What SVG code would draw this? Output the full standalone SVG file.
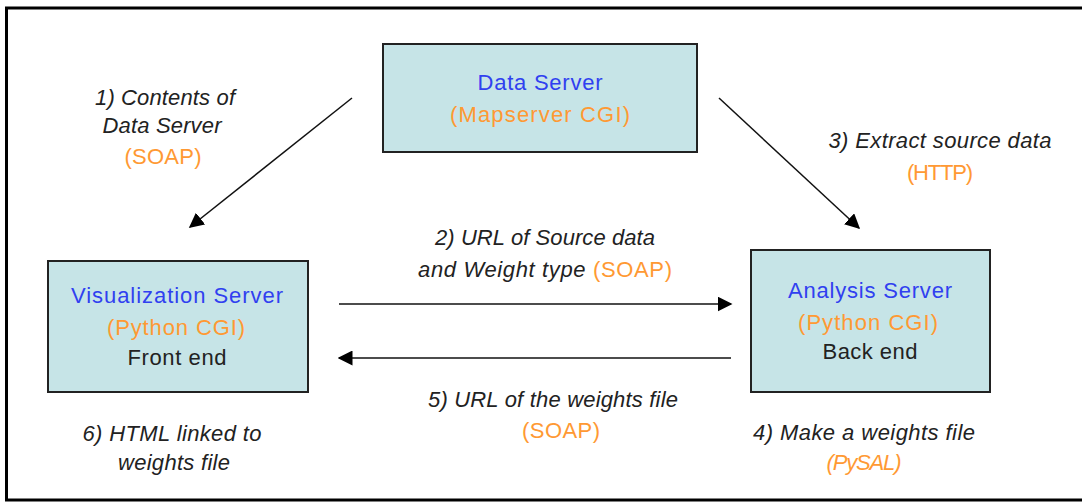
<svg xmlns="http://www.w3.org/2000/svg" width="1082" height="502" viewBox="0 0 1082 502">
<style>
text { font-family: "Liberation Sans", "DejaVu Sans", sans-serif; font-size: 22px; text-anchor: middle; }
.box { fill: #c6e4e7; stroke: #222; stroke-width: 2; }
.title { fill: #3040f0; }
.org { fill: #ff9933; }
.blk { fill: #222; }
.it { font-style: italic; fill: #222; }
.itorg { font-style: italic; fill: #ff9933; }
.conn { stroke: #111; stroke-width: 1.5; fill: none; marker-end: url(#ah); }
</style>
<defs>
<marker id="ah" viewBox="0 0 10 10" refX="9" refY="5" markerWidth="15" markerHeight="15" markerUnits="userSpaceOnUse" orient="auto">
<path d="M0,0 L10,5 L0,10 z" fill="#000"/>
</marker>
</defs>
<rect x="0" y="0" width="1082" height="502" fill="#fff"/>
<rect x="6.5" y="8" width="1090" height="492" fill="none" stroke="#000" stroke-width="3"/>

<g id="connectors">
<line class="conn" x1="352" y1="98" x2="190" y2="227"/>
<line class="conn" x1="719" y1="98" x2="859" y2="228"/>
<line class="conn" x1="339" y1="304" x2="731" y2="304"/>
<line class="conn" x1="731" y1="358" x2="339" y2="358"/>
</g>

<g id="data-server">
<rect class="box" x="383" y="44" width="314" height="108"/>
<text class="title" x="540" y="90" textLength="125">Data Server</text>
<text class="org" x="540" y="122" textLength="180">(Mapserver CGI)</text>
</g>

<g id="visualization-server">
<rect class="box" x="48" y="261" width="260" height="131"/>
<text class="title" x="177" y="303" textLength="212">Visualization Server</text>
<text class="org" x="176" y="335" textLength="138">(Python CGI)</text>
<text class="blk" x="177" y="365" textLength="99">Front end</text>
</g>

<g id="analysis-server">
<rect class="box" x="751" y="250" width="239" height="142"/>
<text class="title" x="870" y="298" textLength="164">Analysis Server</text>
<text class="org" x="868" y="330" textLength="140">(Python CGI)</text>
<text class="blk" x="870" y="359" textLength="95">Back end</text>
</g>

<g id="labels">
<text class="it" x="165" y="105" textLength="140">1) Contents of</text>
<text class="it" x="162" y="133" textLength="119">Data Server</text>
<text class="org" x="163" y="164" textLength="77">(SOAP)</text>

<text class="it" x="940" y="148" textLength="223">3) Extract source data</text>
<text class="org" x="940" y="180" textLength="66">(HTTP)</text>

<text class="it" x="545" y="245" textLength="220">2) URL of Source data</text>
<text x="545" y="277" textLength="254"><tspan class="it">and Weight type </tspan><tspan class="org">(SOAP)</tspan></text>

<text class="it" x="553" y="407" textLength="250">5) URL of the weights file</text>
<text class="org" x="561" y="438" textLength="78">(SOAP)</text>

<text class="it" x="172" y="441" textLength="179">6) HTML linked to</text>
<text class="it" x="174" y="470" textLength="112">weights file</text>

<text class="it" x="864" y="440" textLength="222">4) Make a weights file</text>
<text class="itorg" x="864" y="470" textLength="75">(PySAL)</text>
</g>
</svg>
